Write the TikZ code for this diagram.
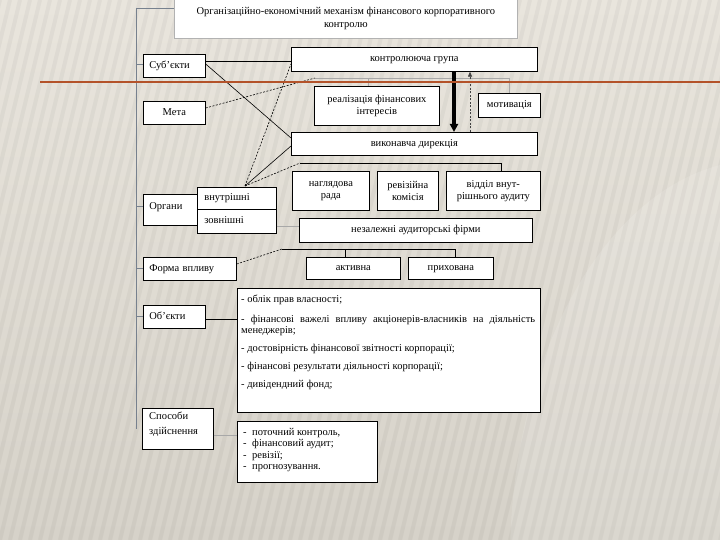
\documentclass[tikz,border=0pt]{standalone}
\usepackage{fontspec}
\setmainfont{Liberation Serif}
\usetikzlibrary{arrows.meta}
\definecolor{bgtop}{HTML}{E9E5DD}
\definecolor{bgbot}{HTML}{D6D2C9}
\definecolor{rust}{HTML}{B4532A}
\definecolor{trunkc}{HTML}{77818E}
\definecolor{faint}{HTML}{A8A8A8}
\begin{document}
\begin{tikzpicture}[x=1pt,y=-1pt,
  box/.style={draw=black, line width=0.7pt, fill=white, anchor=north west, inner xsep=0pt, inner ysep=0pt, align=center, font=\fontsize{10.5}{12}\selectfont},
  sbox/.style={box, text height=7.5pt, text depth=2.5pt},
  lbox/.style={sbox, inner xsep=6pt, align=left},
  txt/.style={anchor=north west, inner sep=0pt, align=left, font=\fontsize{10.5}{10.5}\selectfont},
  link/.style={draw=black, line width=0.6pt},
  dlink/.style={draw=black, line width=0.6pt, dash pattern=on 2pt off 1.5pt},
  flink/.style={draw=faint, line width=0.6pt},
  trunk/.style={draw=trunkc, line width=0.8pt}]
\useasboundingbox (0,0) rectangle (720,540);
\shade[top color=bgtop, bottom color=bgbot] (0,0) rectangle (720,540);
\foreach \i in {-20,...,90} \draw[black, opacity=0.035, line width=4pt] (\i*10,540) -- (\i*10+130,0);
\fill[white, opacity=0.12] (760,560) ellipse [x radius=250, y radius=400];

% nodes
\node[box, draw=gray!60, minimum width=343, minimum height=40, font=\fontsize{10.5}{13}\selectfont] (title) at (174,-2) {Організаційно-економічний механізм фінансового корпоративного\\контролю};
\node[lbox, text width=50, minimum height=23] (subj) at (143,54) {Суб’єкти};
\node[sbox, minimum width=62, minimum height=23] (meta) at (143,101) {Мета};
\node[sbox, minimum width=246, minimum height=24] (kg) at (291,47) {контролююча група};
\node[box, minimum width=125, minimum height=39] (real) at (314,86) {реалізація фінансових\\інтересів};
\node[sbox, minimum width=62, minimum height=24] (motiv) at (478,93) {мотивація};
\node[sbox, minimum width=246, minimum height=23] (vd) at (291,132) {виконавча дирекція};
\node[box, minimum width=77, minimum height=39] (nr) at (292,171) {наглядова\\рада};
\node[box, minimum width=61, minimum height=39] (rk) at (377,171) {ревізійна\\комісія};
\node[box, minimum width=94, minimum height=39] (vva) at (446,171) {відділ внут-\\рішнього аудиту};
\node[lbox, text width=43, minimum height=31, text depth=9pt] (org) at (143,194) {Органи};
\node[lbox, inner xsep=7pt, text width=65, minimum height=22] (vn) at (197,187) {внутрішні};
\node[lbox, inner xsep=7pt, text width=65, minimum height=24] (zv) at (197,209) {зовнішні};
\node[sbox, minimum width=233, minimum height=24] (naf) at (299,218) {незалежні аудиторські фірми};
\node[lbox, text width=81, minimum height=23] (fv) at (143,257) {Форма впливу};
\node[sbox, minimum width=94, minimum height=22] (akt) at (306,257) {активна};
\node[sbox, minimum width=85, minimum height=22] (prih) at (408,257) {прихована};
\node[lbox, text width=50, minimum height=23] (obj) at (143,305) {Об’єкти};
\node[box, minimum width=303, minimum height=124] (objlist) at (237,288) {};
\node[txt] (objtxt) at (241,295) {- облік прав власності;\\[9.5pt]
\makebox[294pt][s]{- фінансові важелі впливу акціонерів-власників на діяльність}\\
менеджерів;\\[7.5pt]
- достовірність фінансової звітності корпорації;\\[7.5pt]
- фінансові результати діяльності корпорації;\\[7.5pt]
- дивідендний фонд;};
\node[box, minimum width=71, minimum height=41] (sp) at (142,408) {};
\node[txt, font=\fontsize{10.5}{14.5}\selectfont] (sptxt) at (149,412) {Способи\\здійснення};
\node[box, minimum width=140, minimum height=61] (meth) at (237,421) {};
\node[txt, font=\fontsize{10.5}{11.4}\selectfont] (methtxt) at (243,428) {\makebox[9pt][l]{-}поточний контроль,\\
\makebox[9pt][l]{-}фінансовий аудит;\\
\makebox[9pt][l]{-}ревізії;\\
\makebox[9pt][l]{-}прогнозування.};

% trunk
\coordinate (t0) at (136,8);
\coordinate (t1) at (136,429);
\draw[trunk] (t0) -- (t1);
\draw[trunk] (t0) -- (t0 -| title.west);
\draw[trunk] (136,64) -- (subj.west |- 0,64);
\draw[trunk] (136,206) -- (org.west |- 0,206);
\draw[trunk] (136,268) -- (fv.west |- 0,268);
\draw[trunk] (136,316) -- (obj.west |- 0,316);

% subjects
\draw[link] (subj.east |- 0,61) -- (kg.west |- 0,61);
\draw[link] (subj.east |- 0,64) -- (vd.west |- 0,138);

% goal
\coordinate (mb) at (315,78);
\coordinate (me) at (509,78);
\draw[dlink] (meta.east |- 0,108) -- (mb);
\draw[flink] (mb) -- (me) -- (me |- motiv.north);
\draw[flink] (368,78) -- (368,0 |- real.north);

% control arrows
\draw[line width=3.5pt, -{Triangle[length=8pt,width=8pt]}] (454,0 |- kg.south) -- (454,0 |- vd.north);
\draw[line width=0.6pt, draw=darkgray, dash pattern=on 2pt off 1.5pt, -{Triangle[length=5pt,width=4pt]}] (470,0 |- vd.north) -- (470,0 |- kg.south);

% bodies
\coordinate (ap) at (245,186);
\coordinate (bb) at (300,163);
\coordinate (be) at (501,163);
\draw[dlink] (ap) -- (kg.west |- 0,64);
\draw[link] (ap) -- (vd.west |- 0,146);
\draw[dlink] (ap) -- (bb);
\draw[link] (bb) -- (be) -- (be |- vva.north);
\draw[flink] (zv.east |- 0,226) -- (naf.west |- 0,226);

% form
\coordinate (fb) at (282,249);
\coordinate (fe) at (455,249);
\draw[dlink] (fv.east |- 0,264) -- (fb);
\draw[link] (fb) -- (fe) -- (fe |- prih.north);
\draw[link] (345,249) -- (345,0 |- akt.north);

% objects, methods
\draw[link] (obj.east |- 0,319) -- (objlist.west |- 0,319);
\draw[flink] (sp.east |- 0,435) -- (meth.west |- 0,435);

% orange rule
\draw[rust, line width=2pt] (40,82) -- (720,82);
\end{tikzpicture}
\end{document}
